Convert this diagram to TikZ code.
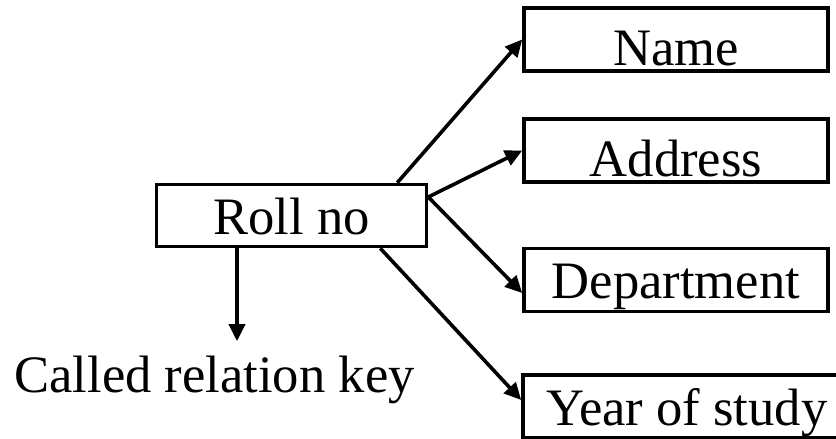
\documentclass[tikz,border=0pt]{standalone}
\usepackage{fontspec}
\setmainfont{Liberation Serif}
\usetikzlibrary{arrows.meta, calc}

\begin{document}
\begin{tikzpicture}[x=0.5pt, y=-0.5pt, line width=1.8pt,
    font=\fontsize{26.3}{30}\selectfont,
    field/.style={draw, rectangle, inner sep=0pt, minimum width=152pt, minimum height=31.5pt, text depth=0pt, text height=18.5pt},
    link/.style={-{Triangle[length=8.5pt, width=8pt]}}]
    \clip (0,0) rectangle (836,439);

    % Key attribute
    \node[field, minimum width=135pt, minimum height=31pt] (roll) at (291.5,215.5) {Roll no};

    % Dependent attributes
    \node[field, text height=25.5pt] (name) at (676,39.5) {Name};
    \node[field, text height=25.5pt] (addr) at (676,150.5) {Address};
    \node[field] (dept) at (676,280) {Department};
    \node[field, minimum width=164pt] (year) at (687,406.5) {Year of study};

    % Label under the key
    \node[inner sep=0pt, text height=24.5pt, text depth=0pt, anchor=base] (key) at (214.5,392) {Called relation key};

    % Arrows from the key
    \draw[link] ($(roll.north east)+(-31,0)$) -- (name.west);
    \draw[link] ($(roll.east)+(0,-18.5)$) -- (addr.west);
    \draw[link] ($(roll.east)+(0,-18.5)$) -- ($(dept.west)+(0,13)$);
    \draw[link] ($(roll.south east)+(-48,0)$) -- ($(year.west)+(0,-6.5)$);
    \draw[link] ($(roll.south)+(-54.5,0)$) coordinate (foot) -- (foot |- key.north);
\end{tikzpicture}
\end{document}
